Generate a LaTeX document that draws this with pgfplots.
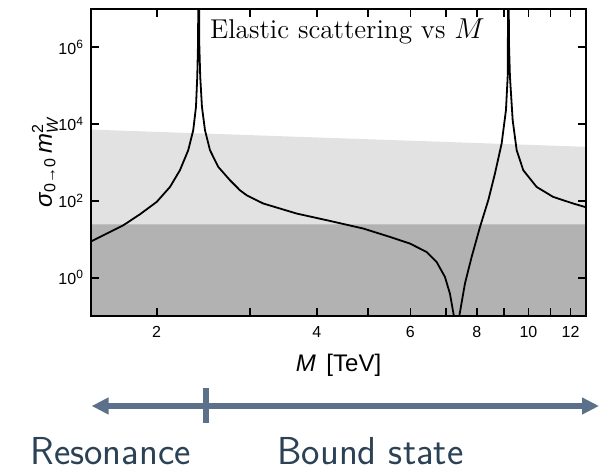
\documentclass[border=0pt]{standalone}
\usepackage{fontspec}
\usepackage{amsmath}
\usepackage{pgfplots}
\pgfplotsset{compat=1.18}
\usetikzlibrary{arrows.meta}
\newfontfamily\helv{Liberation Sans}
\definecolor{lightband}{HTML}{E2E2E2}
\definecolor{darkband}{HTML}{B2B2B2}
\definecolor{arrowcol}{HTML}{5B7189}
\definecolor{textcol}{HTML}{2B4256}
\begin{document}
\begin{tikzpicture}
\useasboundingbox (0,0) rectangle (299.5pt,234.5pt);
\begin{axis}[
  at={(45.5pt,76.5pt)}, anchor=south west,
  scale only axis, width=247.5pt, height=153.5pt,
  xmode=log, ymode=log,
  xmin=1.505, xmax=12.83, ymin=0.1, ymax=1e7,
  xtick={2,3,4,5,6,7,8,9,10,11,12},
  xticklabels={2,,4,,6,,8,,10,,12},
  ytick={1,100,10000,1000000},
  yticklabels={10\textsuperscript{0},10\textsuperscript{2},10\textsuperscript{4},10\textsuperscript{6}},
  major tick length=4pt,
  tick align=inside,
  axis on top=true,
  axis line style={line width=0.9pt},
  tick style={draw=black, line width=0.9pt},
  xticklabel style={font=\helv\fontsize{8}{9}\selectfont, yshift=-1.5pt},
  yticklabel style={font=\helv\fontsize{8}{9}\selectfont},
  xlabel={\textit{M}\, [TeV]},
  ylabel={\textit{σ}$_{\text{\helv 0→0}}$\,\textit{m}$_{\text{\helv\itshape W}}^{\text{\helv 2}}$},
  every axis x label/.style={at={(axis description cs:0.5,-0.16)}, anchor=center, font=\helv\fontsize{12}{14}\selectfont},
  every axis y label/.style={at={(axis description cs:-0.093,0.5)}, rotate=90, anchor=center, font=\helv\fontsize{12}{14}\selectfont},
]
\addplot[fill=darkband, draw=none] coordinates {(1.4,0.01) (14,0.01) (14,24.5) (1.4,24.5)};
\addplot[fill=lightband, draw=none] coordinates {(1.505,24.5) (1.505,7200) (12.83,2560) (12.83,24.5)};
\addplot[black, line width=0.9pt] coordinates {
(1.498,8.49) (1.611,14.06) (1.731,23.1) (1.861,44.8) (2.0,93.8) (2.119,231)
(2.212,630) (2.293,2095) (2.343,6970) (2.371,28240) (2.384,1.71e5) (2.392,1.27e6)
(2.399,1e9)
(2.405,1.27e6) (2.415,1.71e5) (2.433,28240) (2.465,6970) (2.519,2095) (2.611,768)
(2.747,345) (2.868,189.5) (2.953,140) (3.173,85.3) (3.667,46.7) (4.235,30.0)
(4.892,19.0) (5.491,11.5) (5.987,7.71) (6.436,4.66) (6.721,2.55) (6.968,1.04)
(7.119,0.383) (7.244,0.098) (7.31,0.001) (7.37,0.001)
(7.412,0.098) (7.598,0.70) (7.82,3.45) (8.108,20.9) (8.404,104) (8.651,517)
(8.905,3130) (9.073,23170) (9.140,1.71e5) (9.148,1.27e6)
(9.168,1e9)
(9.192,1.27e6) (9.231,1.71e5) (9.340,12700) (9.503,2095) (9.778,630) (10.36,231)
(11.13,126.7) (12.14,85.3) (12.88,67)
};
\node[anchor=base west, font=\fontsize{13.6}{16}\selectfont, inner sep=0pt] at (axis description cs:0.24,0.9046) {Elastic scattering vs $M$};
\end{axis}
\draw[arrowcol, line width=2.6pt, {Triangle[length=8.5pt,width=8pt]}-{Triangle[length=8.5pt,width=8pt]}] (45.8pt,31.5pt) -- (299.5pt,31.5pt);
\draw[arrowcol, line width=2.6pt] (103pt,40.7pt) -- (103pt,23.15pt);
\node[anchor=base west, text=textcol, font=\sffamily\fontsize{19.5}{21}\selectfont, inner sep=0pt] at (15pt,2pt) {Resonance};
\node[anchor=base west, text=textcol, font=\sffamily\fontsize{19.5}{21}\selectfont, inner sep=0pt] at (138.5pt,2pt) {Bound state};
\end{tikzpicture}
\end{document}
